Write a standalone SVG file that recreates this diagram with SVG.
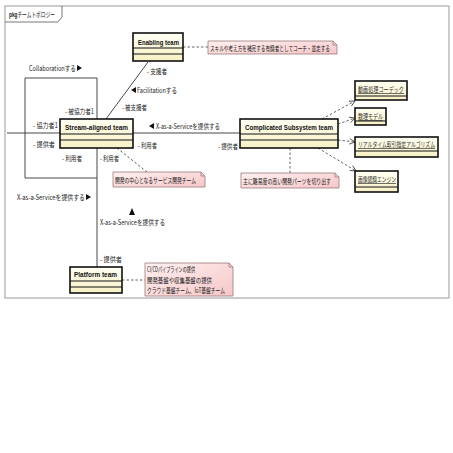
<svg xmlns="http://www.w3.org/2000/svg" width="453" height="453" viewBox="0 0 453 453">
<defs>
<linearGradient id="cls" x1="0" y1="0" x2="0" y2="1"><stop offset="0" stop-color="#fffff4"/><stop offset="1" stop-color="#f7f1c4"/></linearGradient>
<linearGradient id="note" x1="0" y1="0" x2="1" y2="1"><stop offset="0" stop-color="#fff0f0"/><stop offset="1" stop-color="#f6c6c8"/></linearGradient>
<marker id="open" viewBox="0 0 10 10" refX="9" refY="5" markerWidth="7" markerHeight="7" orient="auto" markerUnits="userSpaceOnUse"><path d="M1,1 L9,5 L1,9" fill="none" stroke="#444" stroke-width="1.2"/></marker>
</defs>
<style>
text{font-family:"Noto Sans CJK JP","Liberation Sans",sans-serif;font-size:7px;fill:#222}
.b{font-family:"Liberation Sans","Noto Sans CJK JP",sans-serif;font-weight:bold;font-size:7.5px;fill:#111}
.u{text-decoration:underline;fill:#333}
.box{fill:url(#cls);stroke:#111;stroke-width:1.6}
.div{stroke:#111;stroke-width:1}
.note{fill:url(#note);stroke:#9a7a7c;stroke-width:0.8}
.fold{fill:none;stroke:#9a7a7c;stroke-width:0.8}
.ln{fill:none;stroke:#333;stroke-width:0.9}
.dash{fill:none;stroke:#555;stroke-width:0.9;stroke-dasharray:2.5,2}
.tri{fill:#111}
</style>
<rect width="453" height="453" fill="#fff"/>
<g id="frame">
<rect x="5" y="6" width="444" height="292" fill="none" stroke="#999" stroke-width="1"/>
<path d="M5,22 H58 L62,17 V6" fill="none" stroke="#555" stroke-width="0.8"/>
<text transform="translate(9 17) scale(0.7 1)" textLength="65.7" lengthAdjust="spacingAndGlyphs"><tspan font-weight="bold" font-family="Liberation Sans">pkg</tspan>チームトポロジー</text>
</g>
<g id="connectors">
<path class="ln" d="M148,62 L106,119"/>
<path class="ln" d="M7,133 H60 M25,78 V178 H97 M25,78 H97 V119 M97,148 V267 M133,133 H240"/>
<path class="dash" d="M183,47 H208 M117,148 L147,172 M290,148 V173 M122,280 H145"/>
<path class="dash" d="M322,119 L355,101" marker-end="url(#open)"/>
<path class="dash" d="M338,124 L355,118" marker-end="url(#open)"/>
<path class="dash" d="M338,140 L355,142" marker-end="url(#open)"/>
<path class="dash" d="M318,148 L356,171" marker-end="url(#open)"/>
<text transform="translate(147 74) scale(0.7 1)" textLength="28.6" lengthAdjust="spacingAndGlyphs">- 支援者</text>
<path class="tri" d="M131,90 L136,87 L136,93 Z"/>
<text transform="translate(137 93) scale(0.7 1)" textLength="57.1" lengthAdjust="spacingAndGlyphs">Facilitationする</text>
<text transform="translate(122 110) scale(0.7 1)" textLength="35.7" lengthAdjust="spacingAndGlyphs">- 被支援者</text>
<text transform="translate(29 71) scale(0.7 1)" textLength="67.1" lengthAdjust="spacingAndGlyphs">Collaborationする</text>
<path class="tri" d="M82,68 L77,65 L77,71 Z"/>
<text transform="translate(65 114) scale(0.7 1)" textLength="41.4" lengthAdjust="spacingAndGlyphs">- 被協力者1</text>
<text transform="translate(33 128) scale(0.7 1)" textLength="35.7" lengthAdjust="spacingAndGlyphs">- 協力者1</text>
<text transform="translate(33 147) scale(0.7 1)" textLength="31.4" lengthAdjust="spacingAndGlyphs">- 提供者</text>
<text transform="translate(62 161) scale(0.7 1)" textLength="28.6" lengthAdjust="spacingAndGlyphs">- 利用者</text>
<text transform="translate(100 161) scale(0.7 1)" textLength="27.1" lengthAdjust="spacingAndGlyphs">- 利用者</text>
<text transform="translate(17 200) scale(0.7 1)" textLength="97.1" lengthAdjust="spacingAndGlyphs">X-as-a-Serviceを提供する</text>
<path class="tri" d="M91,197 L86,194 L86,200 Z"/>
<path class="tri" d="M149,126 L154,123 L154,129 Z"/>
<text transform="translate(156 129) scale(0.7 1)" textLength="91.4" lengthAdjust="spacingAndGlyphs">X-as-a-Serviceを提供する</text>
<text transform="translate(138 148) scale(0.7 1)" textLength="27.1" lengthAdjust="spacingAndGlyphs">- 利用者</text>
<text transform="translate(218 149) scale(0.7 1)" textLength="28.6" lengthAdjust="spacingAndGlyphs">- 提供者</text>
<path class="tri" d="M132,208 L129,215 L135,215 Z"/>
<text transform="translate(100 225) scale(0.7 1)" textLength="92.9" lengthAdjust="spacingAndGlyphs">X-as-a-Serviceを提供する</text>
<text transform="translate(100 262) scale(0.7 1)" textLength="31.4" lengthAdjust="spacingAndGlyphs">- 提供者</text>
</g>
<g id="enabling-team">
<rect class="box" x="133" y="33" width="50" height="28"/>
<path class="div" d="M133,48 H183 M133,54 H183"/>
<text class="b" transform="translate(138 45) scale(0.8 1)" textLength="51.25" lengthAdjust="spacingAndGlyphs">Enabling team</text>
</g>
<g id="enabling-note">
<path class="note" d="M208,41 H333 L337,45 V54 H208 Z"/>
<path class="fold" d="M333,41 V45 H337"/>
<text transform="translate(210 50.5) scale(0.7 1)" textLength="171.4" lengthAdjust="spacingAndGlyphs">スキルや考え方を補完する有識者としてコーチ・並走する</text>
</g>
<g id="stream-aligned-team">
<rect class="box" x="60" y="119" width="73" height="29"/>
<path class="div" d="M60,134 H133 M60,140 H133"/>
<text class="b" transform="translate(65 130) scale(0.8 1)" textLength="78.75" lengthAdjust="spacingAndGlyphs">Stream-aligned team</text>
</g>
<g id="stream-note">
<path class="note" d="M113,172 H201 L205,176 V187 H113 Z"/>
<path class="fold" d="M201,172 V176 H205"/>
<text transform="translate(115 182.5) scale(0.7 1)" textLength="115.7" lengthAdjust="spacingAndGlyphs">開発の中心となるサービス開発チーム</text>
</g>
<g id="complicated-subsystem-team">
<rect class="box" x="240" y="119" width="98" height="29"/>
<path class="div" d="M240,134 H338 M240,140 H338"/>
<text class="b" transform="translate(245 130) scale(0.8 1)" textLength="110" lengthAdjust="spacingAndGlyphs">Complicated Subsystem team</text>
</g>
<g id="complicated-note">
<path class="note" d="M241,173 H335 L339,177 V188 H241 Z"/>
<path class="fold" d="M335,173 V177 H339"/>
<text transform="translate(243 183.5) scale(0.7 1)" textLength="125.7" lengthAdjust="spacingAndGlyphs">主に難易度の高い開発パーツを切り出す</text>
</g>
<g id="codec">
<rect class="box" x="355" y="81" width="52" height="19"/>
<path class="div" d="M355,96 H407"/>
<text class="u" transform="translate(358 92) scale(0.7 1)" textLength="65.7" lengthAdjust="spacingAndGlyphs">動画処理コーデック</text>
</g>
<g id="math-model">
<rect class="box" x="355" y="108" width="31" height="17"/>
<path class="div" d="M355,121 H386"/>
<text class="u" transform="translate(358 119) scale(0.7 1)" textLength="35.7" lengthAdjust="spacingAndGlyphs">数理モデル</text>
</g>
<g id="realtime-algo">
<rect class="box" x="355" y="137" width="83" height="20"/>
<path class="div" d="M355,151 H438"/>
<text class="u" transform="translate(358 147) scale(0.7 1)" textLength="110" lengthAdjust="spacingAndGlyphs">リアルタイム取引指定アルゴリズム</text>
</g>
<g id="image-engine">
<rect class="box" x="355" y="171" width="43" height="21"/>
<path class="div" d="M355,187 H398"/>
<text class="u" transform="translate(358 182) scale(0.7 1)" textLength="54.3" lengthAdjust="spacingAndGlyphs">画像認識エンジン</text>
</g>
<g id="platform-team">
<rect class="box" x="70" y="267" width="52" height="26"/>
<path class="div" d="M70,281 H122 M70,287 H122"/>
<text class="b" transform="translate(74 277) scale(0.8 1)" textLength="53.75" lengthAdjust="spacingAndGlyphs">Platform team</text>
</g>
<g id="platform-note">
<path class="note" d="M145,263 H229 L233,267 V296 H145 Z"/>
<path class="fold" d="M229,263 V267 H233"/>
<text transform="translate(147 272) scale(0.7 1)" textLength="68.6" lengthAdjust="spacingAndGlyphs">CI/CDパイプラインの提供</text>
<text transform="translate(147 283) scale(0.7 1)" textLength="92.9" lengthAdjust="spacingAndGlyphs">開発基盤や収集基盤の提供</text>
<text transform="translate(147 293) scale(0.7 1)" textLength="111.4" lengthAdjust="spacingAndGlyphs">クラウド基盤チーム、IoT基盤チーム</text>
</g>
</svg>
